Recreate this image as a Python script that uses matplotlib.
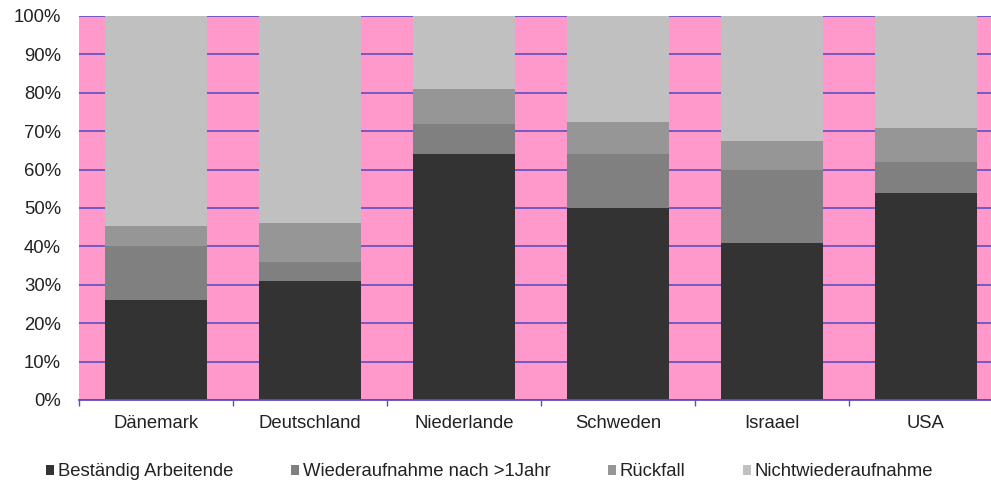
import matplotlib
matplotlib.use("Agg")
import matplotlib.pyplot as plt
import numpy as np
from matplotlib.patches import Patch
from matplotlib.ticker import FixedLocator, PercentFormatter

plt.rcParams['font.family'] = ['Liberation Sans', 'DejaVu Sans']

countries = ["Dänemark", "Deutschland", "Niederlande", "Schweden", "Israael", "USA"]
series_names = ["Beständig Arbeitende", "Wiederaufnahme nach >1Jahr", "Rückfall", "Nichtwiederaufnahme"]
bestaendig = [26, 31, 64, 50, 41, 54]
wiederaufnahme = [14, 5, 8, 14, 19, 8]
rueckfall = [5.3, 10.1, 8.9, 8.4, 7.5, 8.9]
nicht = [100 - a - b - c for a, b, c in zip(bestaendig, wiederaufnahme, rueckfall)]
colors = ["#333333", "#808080", "#969696", "#C0C0C0"]

fig = plt.figure(figsize=(9.91, 4.84), dpi=100)
W, H = 991, 484
left, right, top, bottom = 79, 1003, 16, 400
ax = fig.add_axes([left / W, 1 - bottom / H, (right - left) / W, (bottom - top) / H])
ax.set_facecolor("#FF99CC")

x = np.arange(len(countries))
bw = 0.66
base = np.zeros(len(countries))
handles = []
for vals, c, name in zip([bestaendig, wiederaufnahme, rueckfall, nicht], colors, series_names):
    ax.bar(x, vals, bw, bottom=base, color=c, zorder=3, linewidth=0)
    base = base + np.array(vals)
    handles.append(Patch(facecolor=c, edgecolor='none', label=name))

ax.set_xlim(-0.5, len(countries) - 0.5)
ax.set_ylim(0, 100)
ax.set_yticks(np.arange(0, 101, 10))
ax.yaxis.set_major_formatter(PercentFormatter(decimals=0))
ax.grid(axis='y', color="#6A55C0", linewidth=1.3, zorder=1)
ax.set_axisbelow(True)

for s in ['left', 'right', 'top']:
    ax.spines[s].set_visible(False)
ax.spines['bottom'].set_color("#5A4FC0")
ax.spines['bottom'].set_linewidth(1.3)
ax.spines['bottom'].set_zorder(5)

fs = 13.3
ax.set_xticks(x)
ax.set_xticklabels(countries)
ax.xaxis.set_minor_locator(FixedLocator(np.arange(-0.5, len(countries), 1.0)))
ax.tick_params(axis='x', which='major', length=0, pad=11, labelsize=fs, colors='#222222')
ax.tick_params(axis='x', which='minor', length=4, width=1, color="#5A4FC0", direction='out')
ax.tick_params(axis='y', length=0, pad=13, labelsize=fs, colors='#222222')

fig.legend(handles=handles, loc='center', bbox_to_anchor=(0.494, 0.025), ncol=4,
           frameon=False, handlelength=0.45, handleheight=0.45, handletextpad=0.2,
           columnspacing=3.1, fontsize=fs, labelcolor='#222222')

fig.savefig("out.png", dpi=100)
